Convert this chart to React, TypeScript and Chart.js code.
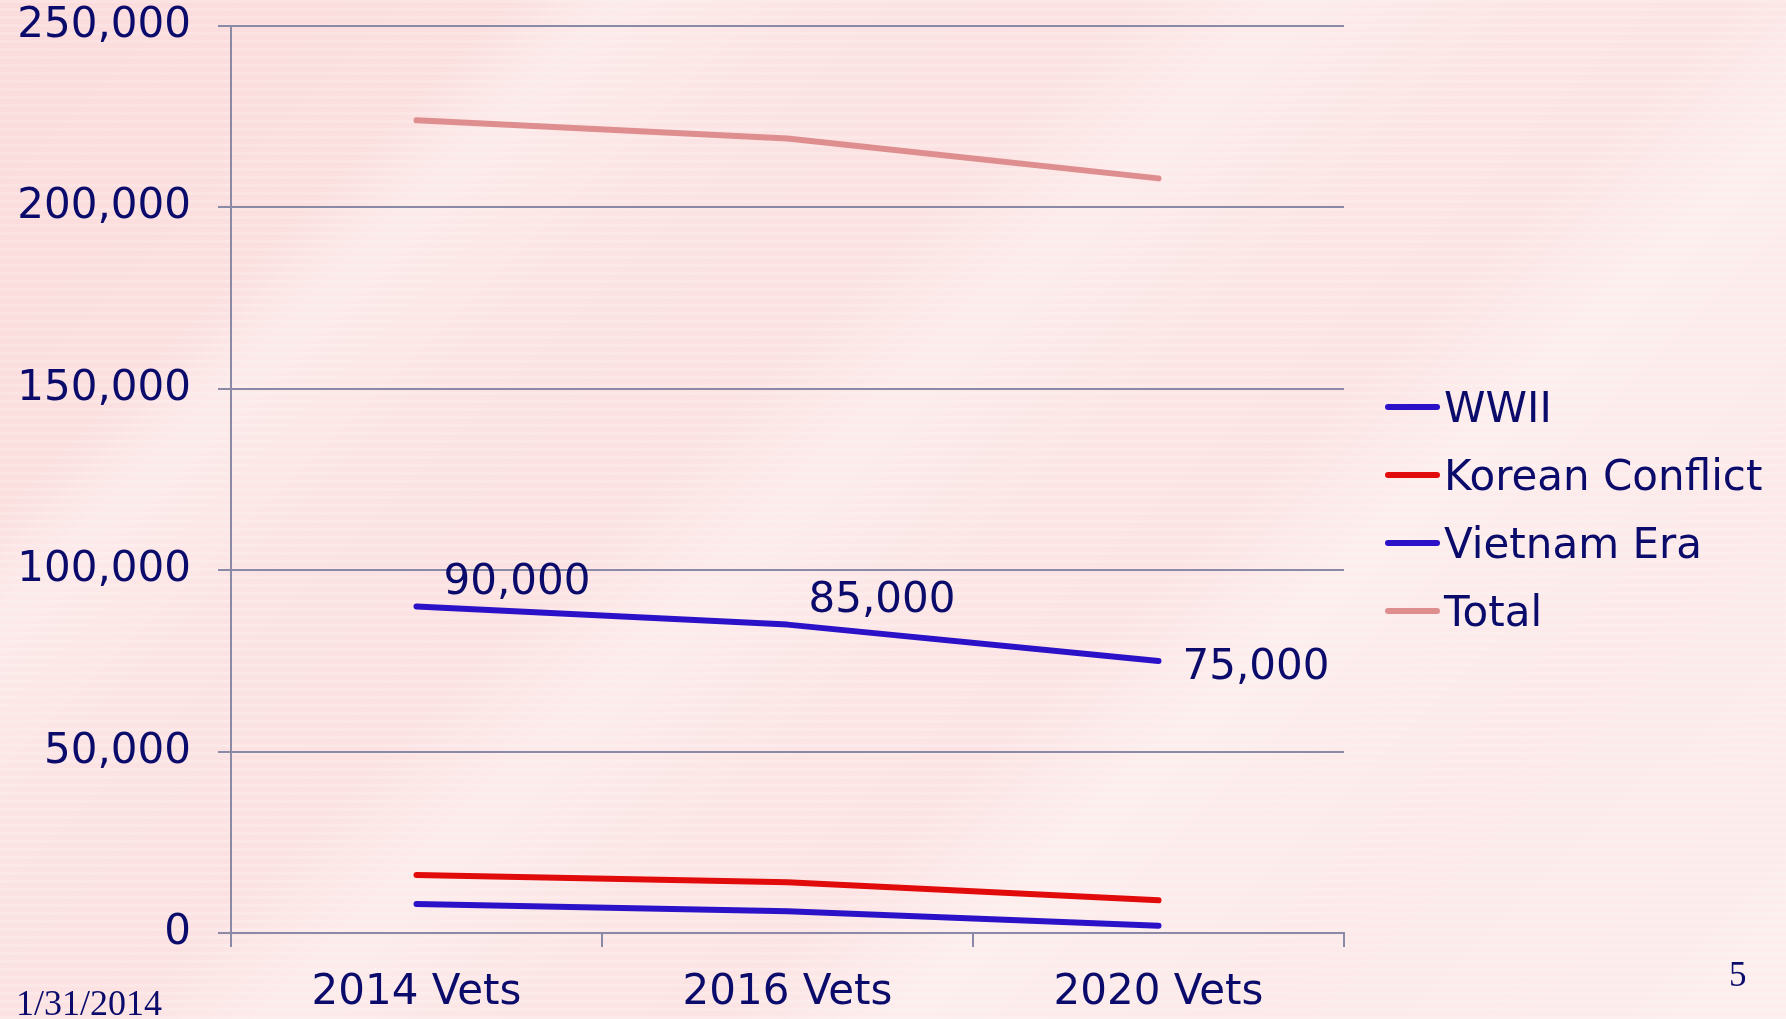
import React, { useEffect, useRef } from "react";
import { Chart, registerables } from "chart.js";

Chart.register(...registerables);

// ---- data ----
const categories = ["2014 Vets", "2016 Vets", "2020 Vets"];
const seriesNames = ["WWII", "Korean Conflict", "Vietnam Era", "Total"];
const wwiiValues = [8000, 6000, 2000];
const koreanValues = [16000, 14000, 9000];
const vietnamValues = [90000, 85000, 75000];
const totalValues = [224000, 219000, 208000];
const yTickValues = [0, 50000, 100000, 150000, 200000, 250000];
const vietnamLabels = ["90,000", "85,000", "75,000"];
const footerDate = "1/31/2014";
const pageNumber = "5";

// ---- styles ----
const FONT = "'DejaVu Sans', Verdana, sans-serif";
const TEXT = "#0b0b6b";
const AXIS = "#8a8aa6";
const seriesColors = ["#2b12c8", "#e20b0b", "#2b12c8", "#de8e8e"];
const labelOffsets = [
  { dx: 27, dy: -27 },
  { dx: 21, dy: -28 },
  { dx: 24, dy: 3 },
];

const fmt = (v: number) => v.toLocaleString("en-US");

const legendPlugin = {
  id: "customLegend",
  afterDraw(chart: any) {
    const { ctx, chartArea } = chart;
    ctx.save();
    ctx.font = `42px ${FONT}`;
    ctx.fillStyle = TEXT;
    ctx.textAlign = "left";
    ctx.textBaseline = "alphabetic";
    chart.data.datasets.forEach((ds: any, i: number) => {
      const y = chartArea.top + 381 + i * 68;
      const x0 = chartArea.right + 41;
      ctx.strokeStyle = ds.borderColor;
      ctx.lineWidth = 6;
      ctx.lineCap = "round";
      ctx.beginPath();
      ctx.moveTo(x0 + 3, y);
      ctx.lineTo(x0 + 52, y);
      ctx.stroke();
      ctx.fillText(ds.label, x0 + 59, y + 15);
    });
    ctx.restore();
  },
};

const dataLabelPlugin = {
  id: "vietnamLabels",
  afterDatasetsDraw(chart: any) {
    const { ctx } = chart;
    const idx = seriesNames.indexOf("Vietnam Era");
    const meta = chart.getDatasetMeta(idx);
    ctx.save();
    ctx.font = `42px ${FONT}`;
    ctx.fillStyle = TEXT;
    ctx.textAlign = "left";
    ctx.textBaseline = "alphabetic";
    meta.data.forEach((pt: any, i: number) => {
      const o = labelOffsets[i];
      ctx.fillText(vietnamLabels[i], pt.x + o.dx, pt.y + o.dy + 15);
    });
    ctx.restore();
  },
};

export default function App() {
  const canvasRef = useRef<HTMLCanvasElement | null>(null);

  useEffect(() => {
    if (!canvasRef.current) return;
    const seriesValues = [wwiiValues, koreanValues, vietnamValues, totalValues];
    const chart = new Chart(canvasRef.current, {
      type: "line",
      data: {
        labels: categories,
        datasets: seriesNames.map((name, i) => ({
          label: name,
          data: seriesValues[i],
          borderColor: seriesColors[i],
          backgroundColor: seriesColors[i],
          borderWidth: 6,
          borderCapStyle: "round",
          borderJoinStyle: "round",
          pointRadius: 0,
          tension: 0,
          fill: false,
        })),
      },
      options: {
        animation: false,
        responsive: false,
        layout: { padding: { top: 26, right: 442, left: 0, bottom: 0 } },
        plugins: {
          legend: { display: false },
          tooltip: { enabled: false },
        },
        scales: {
          x: {
            offset: true,
            grid: {
              display: true,
              drawOnChartArea: false,
              offset: true,
              tickLength: 14,
              color: AXIS,
              lineWidth: 2,
            },
            border: { color: AXIS, width: 2 },
            ticks: {
              color: TEXT,
              font: { family: FONT, size: 42 },
              padding: 21,
              maxRotation: 0,
              autoSkip: false,
            },
            afterFit: (s: any) => {
              s.height = 86;
              s.paddingLeft = 0;
              s.paddingRight = 0;
            },
          },
          y: {
            min: yTickValues[0],
            max: yTickValues[yTickValues.length - 1],
            afterBuildTicks: (s: any) => {
              s.ticks = yTickValues.map((v) => ({ value: v }));
            },
            ticks: {
              color: TEXT,
              font: { family: FONT, size: 42 },
              padding: 27,
              callback: (v: any) => fmt(Number(v)),
            },
            grid: { color: AXIS, lineWidth: 2, tickLength: 13 },
            border: { color: AXIS, width: 2 },
            afterFit: (s: any) => {
              s.width = 231;
              s.paddingTop = 0;
              s.paddingBottom = 0;
            },
          },
        },
      },
      plugins: [dataLabelPlugin, legendPlugin],
    } as any);
    return () => chart.destroy();
  }, []);

  return (
    <div
      style={{
        position: "fixed",
        left: 0,
        top: 0,
        width: 1786,
        height: 1019,
        overflow: "hidden",
        background: [
          "repeating-linear-gradient(0deg, rgba(255,255,255,0.18) 0px, rgba(255,255,255,0.18) 3px, rgba(255,255,255,0) 3px, rgba(255,255,255,0) 8px)",
          "linear-gradient(135deg, rgba(255,255,255,0) 0%, rgba(255,255,255,0) 18%, rgba(255,255,255,0.35) 22%, rgba(255,255,255,0.1) 30%, rgba(255,255,255,0) 40%, rgba(255,255,255,0.3) 46%, rgba(255,255,255,0.05) 55%, rgba(255,255,255,0) 62%, rgba(255,255,255,0.35) 68%, rgba(255,255,255,0.15) 80%, rgba(255,255,255,0.3) 100%)",
          "linear-gradient(135deg, #fbdcdc 0%, #fce3e3 50%, #fce6e6 100%)",
        ].join(", "),
      }}
    >
      <canvas ref={canvasRef} width={1786} height={1019} style={{ position: "absolute", left: 0, top: 0 }} />
      <div
        style={{
          position: "absolute",
          left: 16,
          top: 985,
          fontFamily: "'Liberation Serif', 'Times New Roman', serif",
          fontSize: 36,
          lineHeight: 1,
          color: TEXT,
        }}
      >
        {footerDate}
      </div>
      <div
        style={{
          position: "absolute",
          left: 1729,
          top: 957,
          fontFamily: "'Liberation Serif', 'Times New Roman', serif",
          fontSize: 35,
          lineHeight: 1,
          color: TEXT,
        }}
      >
        {pageNumber}
      </div>
    </div>
  );
}
